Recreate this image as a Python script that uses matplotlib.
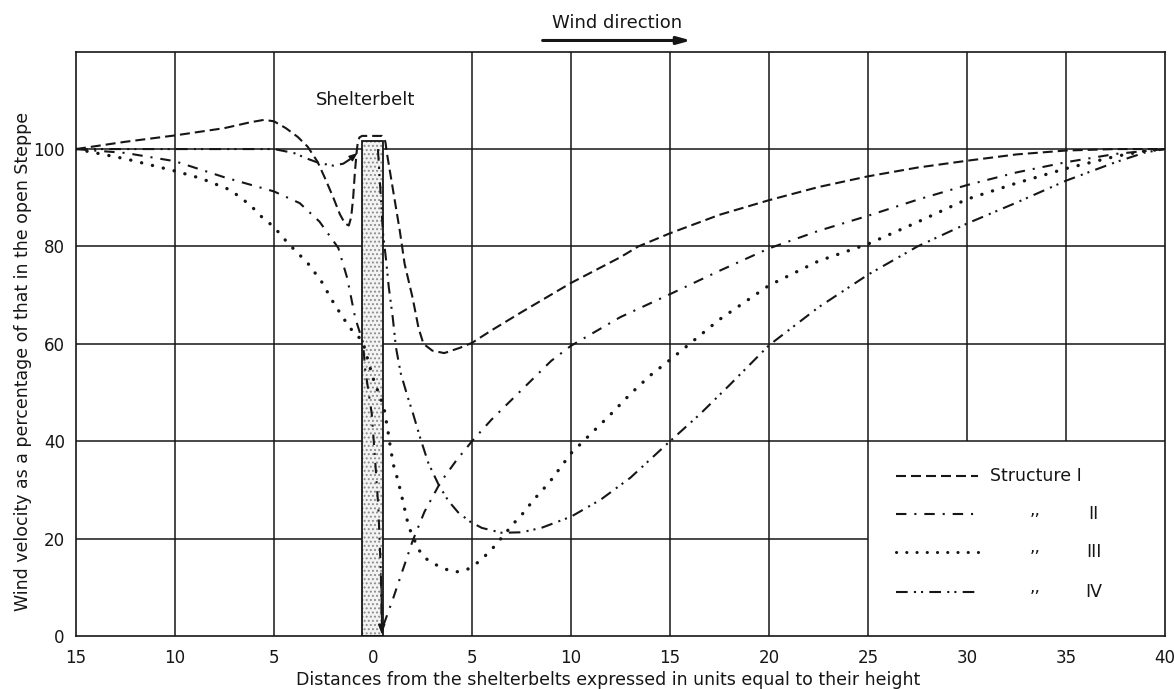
import matplotlib
matplotlib.use('Agg')
import matplotlib.pyplot as plt

plt.rcParams['font.family'] = ['DejaVu Sans', 'Noto Sans']
plt.rcParams['hatch.linewidth'] = 0.9

# ---------------- data ----------------
x_ticks = [-15, -10, -5, 0, 5, 10, 15, 20, 25, 30, 35, 40]
x_tick_labels = ['15', '10', '5', '0', '5', '10', '15', '20', '25', '30', '35', '40']
y_ticks = [0, 20, 40, 60, 80, 100]

# Structure I (dashed) - continuous, passes over the belt top
x_I = [-15, -12.5, -10, -7.5, -6.2, -5.5, -5, -4.4, -3.8, -3.3, -2.8, -2.42, -2.0,
       -1.67, -1.41, -1.22, -1.1, -1.0, -0.91, -0.82, -0.76, -0.68, -0.55, 0.45,
       0.58, 0.64, 0.69, 0.94, 1.36, 1.6, 2.0, 2.3, 2.55, 3.0, 3.6, 4.4, 5.0, 6.0,
       7.5, 10, 12.5, 13.4, 15, 17.5, 20, 22.5, 25, 27.5, 30, 32.5, 35, 37.5, 40]
y_I = [100, 101.5, 102.8, 104.3, 105.5, 106.0, 105.7, 104.3, 102.5, 100.5, 97.4, 94,
       90, 86.6, 84.7, 84.3, 86, 90, 95.4, 99.5, 101.6, 102.4, 102.7, 102.7,
       102.2, 101.2, 99.5, 93.4, 83.1, 76.4, 69.5, 63.3, 60, 58.6, 58.1, 59.2, 60.2,
       62.8, 66.5, 72.5, 77.8, 80, 82.7, 86.5, 89.5, 92.2, 94.4, 96.2, 97.6, 98.9,
       99.7, 100, 100]

# Structure II (dash-dot) - windward, through the belt down to 0, leeward
x_II = [-15, -12.5, -10, -7.5, -5, -3.7, -2.7, -1.75, -1.3, -0.9, -0.5, -0.4, -0.06,
        0.1, 0.27, 0.4, 0.45, 0.6, 1.0, 1.5, 2.0, 2.6, 3.4, 4.2, 5, 6, 7.5, 9, 10,
        12.5, 15, 17.5, 20, 22.5, 25, 27.5, 30, 32.5, 35, 37.5, 40]
y_II = [100, 99.2, 97.5, 94.2, 91.3, 88.9, 85.1, 79.7, 73.5, 65.4, 60.2, 55, 45.6,
        36.7, 26.5, 12.9, 1.5, 3.0, 7.5, 13.5, 19.5, 25.5, 31.5, 36, 40, 44.5, 50.5,
        56.5, 59.6, 65.5, 70.2, 75, 79.6, 83.2, 86.3, 89.6, 92.6, 95.2, 97.3, 99, 100]

# Structure III (dotted)
x_III = [-15, -12.5, -10, -8.7, -7.2, -6.2, -5.6, -5, -4.3, -3.3, -2.6, -2.0, -1.5,
         -1.1, -0.7, -0.5, 0.0, 0.55, 0.75, 0.9, 1.06, 1.26, 1.5, 1.8, 2.27, 2.57,
         3.0, 3.5, 4.1, 4.7, 5.4, 6.0, 6.5, 7.1, 7.6, 8.1, 8.9, 10, 11, 12, 13, 14,
         15, 17.5, 20, 22.5, 25, 27.5, 30, 32.5, 35, 37.5, 39, 40]
y_III = [100, 98, 95.5, 94, 91.6, 88.5, 86, 84, 80.7, 76.6, 72.8, 68.5, 65.3,
         63, 61.3, 60.2, 53, 47, 42.3, 38.2, 34.7, 32, 27.9, 22.5, 18, 16.2,
         15, 14, 13.1, 13.5, 15.4, 17.8, 20.2, 23.1, 25.3, 27.9, 31.5, 37.5, 41.5,
         45.5, 49.7, 53.5, 56.7, 65, 72, 77, 80.5, 85, 89.7, 93, 96, 98.5, 99.6, 100]

# Structure IV (dash-dot-dot) - windward part and leeward part
x_IV_wind = [-15, -12.5, -10, -7.5, -5, -4, -3.3, -2.7, -2.0, -1.5, -1.2, -0.9]
y_IV_wind = [100, 100, 100, 100, 100, 99.2, 98, 97.1, 96.6, 97.0, 97.8, 98.7]
x_IV_lee = [0.25, 0.4, 0.5, 0.65, 0.8, 1.0, 1.16, 1.4, 1.76, 2.0, 2.4, 2.8, 3.3, 3.8,
            4.3, 4.9, 5.5, 6.5, 7.5, 8.5, 10, 11.5, 13, 15, 16.5, 18, 20, 22.5, 25,
            27.5, 30, 32.5, 35, 37.5, 39, 40]
y_IV_lee = [100, 90, 83, 77.7, 71.6, 65.4, 59.3, 54, 49, 46, 40.5, 35.5, 31.2, 27.8,
            25.4, 23.5, 22.2, 21.2, 21.3, 22.2, 24.5, 28, 32.5, 40, 45.5, 51.5, 59.7,
            67.5, 74.2, 80, 84.7, 89, 93.5, 97.3, 99.3, 100]

# shelterbelt
belt_center = -0.02
belt_width = 1.07
belt_top = 101.6

legend_numerals = ['II', 'III', 'IV']

# ---------------- drawing ----------------
INK = '#161616'
fig = plt.figure(figsize=(11.74, 6.89), dpi=100)
ax = fig.add_axes([0.0647, 0.0769, 0.9276, 0.8481])
ax.set_xlim(-15, 40)
ax.set_ylim(0, 120)

# grid (as drawn in the reference, with an empty legend box bottom right)
ax.vlines([-10, -5, 5, 10, 15, 20, 25], 0, 120, colors=INK, lw=1.1, zorder=1)
ax.vlines([30, 35], 40, 120, colors=INK, lw=1.1, zorder=1)
ax.hlines([40, 60, 80, 100], -15, 40, colors=INK, lw=1.1, zorder=1)
ax.hlines([20], -15, 25, colors=INK, lw=1.1, zorder=1)

# shelterbelt (stippled)
ax.bar(belt_center, belt_top, width=belt_width, bottom=0, color='#f3f3f3',
       edgecolor='#8c8c8c', hatch='....', linewidth=0, zorder=2)
ax.bar(belt_center, belt_top, width=belt_width, bottom=0, fill=False,
       edgecolor=INK, linewidth=1.3, zorder=3)

LW = 1.5
st_I = (0, (4.8, 2.4))
st_II = (0, (5.0, 3.8, 1.0, 3.8))
st_III = (0, (0.05, 3.3))
st_IV = (0, (5.6, 3.0, 1.0, 2.4, 1.0, 3.0))

ax.plot(x_I, y_I, color=INK, lw=LW, ls=st_I, zorder=4)
ax.plot(x_II, y_II, color=INK, lw=LW, ls=st_II, zorder=4)
ax.plot(x_III, y_III, color=INK, lw=2.4, ls=st_III, dash_capstyle='round', zorder=4)
ax.plot(x_IV_wind, y_IV_wind, color=INK, lw=LW, ls=st_IV, zorder=4)
ax.plot(x_IV_lee, y_IV_lee, color=INK, lw=LW, ls=st_IV, zorder=4)

# arrowheads
ax.annotate('', xy=(x_IV_wind[-1] + 0.12, y_IV_wind[-1] + 0.5),
            xytext=(x_IV_wind[-2], y_IV_wind[-2]),
            arrowprops=dict(arrowstyle='-|>,head_length=0.5,head_width=0.2',
                            color=INK, lw=1.0, shrinkA=0, shrinkB=0), zorder=5)
ax.annotate('', xy=(x_II[16], y_II[16] - 1.2), xytext=(x_II[15], y_II[15]),
            arrowprops=dict(arrowstyle='-|>,head_length=0.6,head_width=0.22',
                            color=INK, lw=1.0, shrinkA=0, shrinkB=0), zorder=5)

# texts
ax.text(-0.37, 110, 'Shelterbelt', ha='center', va='center', fontsize=13, color=INK)
ax.text(12.31, 125.8, 'Wind direction', ha='center', va='center', fontsize=13,
        color=INK, clip_on=False)
ax.annotate('', xy=(16.07, 122.3), xytext=(8.57, 122.3), annotation_clip=False,
            arrowprops=dict(arrowstyle='-|>,head_length=0.8,head_width=0.22',
                            color=INK, lw=2.2, shrinkA=0, shrinkB=0))

# hand-made legend
leg_x0, leg_x1 = 26.4, 30.55
rows = [32.8, 25.0, 17.3, 9.1]
styles = [(st_I, LW, 'butt'), (st_II, LW, 'butt'), (st_III, 2.2, 'round'), (st_IV, LW, 'butt')]
for ry, (ls, lw, cap) in zip(rows, styles):
    ax.plot([leg_x0, leg_x1], [ry, ry], color=INK, lw=lw, ls=ls, dash_capstyle=cap, zorder=4)
ax.text(31.16, rows[0], 'Structure I', ha='left', va='center', fontsize=12.5, color=INK)
for ry, num in zip(rows[1:], legend_numerals):
    ax.text(33.45, ry + 0.9, ',,', ha='center', va='center', fontsize=12.5, color=INK)
    ax.text(36.4, ry, num, ha='center', va='center', fontsize=12.5, color=INK)

# axes
ax.set_xticks(x_ticks)
ax.set_xticklabels(x_tick_labels)
ax.set_yticks(y_ticks)
ax.set_yticklabels([str(v) for v in y_ticks])
ax.tick_params(axis='both', length=0, labelsize=12, colors=INK)
ax.tick_params(axis='x', pad=9)
ax.tick_params(axis='y', pad=8)
for sp in ax.spines.values():
    sp.set_color(INK)
    sp.set_linewidth(1.2)

ax.set_xlabel('Distances from the shelterbelts expressed in units equal to their height',
              fontsize=12.5, color=INK)
ax.xaxis.set_label_coords(0.4885, -0.0753)
ax.xaxis.label.set_va('center')
ax.set_ylabel('Wind velocity as a percentage of that in the open Steppe',
              fontsize=12.5, color=INK)
ax.yaxis.set_label_coords(-0.0487, 0.4706)
ax.yaxis.label.set_va('center')

fig.savefig('out.png', dpi=100)
